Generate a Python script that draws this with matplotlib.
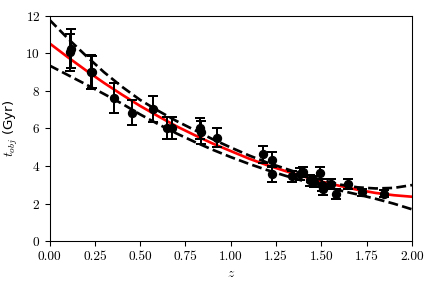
import matplotlib
matplotlib.use("Agg")
import matplotlib.pyplot as plt

plt.rcParams['font.family'] = 'serif'
plt.rcParams['font.serif'] = ['cmr10']
plt.rcParams['mathtext.fontset'] = 'cm'
plt.rcParams['axes.formatter.use_mathtext'] = True

# data points
z_obs = [0.115, 0.12, 0.227, 0.233, 0.357, 0.453, 0.573, 0.65, 0.678, 0.83, 0.834,
         0.926, 1.18, 1.226, 1.226, 1.34, 1.382, 1.397, 1.437, 1.461, 1.49, 1.502,
         1.511, 1.553, 1.58, 1.645, 1.726, 1.847]
t_obs = [10.05, 10.25, 9.0, 9.0, 7.62, 6.84, 7.03, 6.02, 6.02, 6.0, 5.8,
         5.52, 4.62, 4.34, 3.58, 3.45, 3.58, 3.68, 3.25, 3.18, 3.65, 3.0,
         2.77, 3.03, 2.52, 3.04, 2.61, 2.54]
t_err = [1.0, 1.05, 0.9, 0.85, 0.8, 0.67, 0.7, 0.6, 0.6, 0.57, 0.6,
         0.53, 0.45, 0.39, 0.42, 0.3, 0.3, 0.28, 0.3, 0.3, 0.32, 0.3,
         0.3, 0.27, 0.25, 0.25, 0.18, 0.18]

# curves
z_fit = [0.0, 0.1, 0.2, 0.3, 0.4, 0.5, 0.6, 0.7, 0.8, 0.9, 1.0,
         1.1, 1.2, 1.3, 1.4, 1.5, 1.6, 1.7, 1.8, 1.9, 2.0]
t_best = [10.53, 9.80, 9.10, 8.43, 7.80, 7.20, 6.65, 6.12, 5.65, 5.20, 4.80,
          4.40, 4.05, 3.74, 3.45, 3.18, 2.95, 2.74, 2.57, 2.45, 2.37]
t_upper = [11.78, 10.80, 9.88, 9.00, 8.22, 7.52, 6.94, 6.40, 5.92, 5.43, 4.99,
           4.57, 4.19, 3.87, 3.55, 3.27, 3.02, 2.87, 2.81, 2.84, 2.99]
t_lower = [9.35, 8.85, 8.35, 7.84, 7.32, 6.75, 6.23, 5.74, 5.29, 4.87, 4.48,
           4.12, 3.79, 3.49, 3.21, 2.95, 2.71, 2.49, 2.26, 2.00, 1.70]

fig, ax = plt.subplots(figsize=(4.5, 3), dpi=96)
fig.subplots_adjust(left=0.1146, right=0.9537, top=0.9455, bottom=0.1622)

ax.plot(z_fit, t_best, color='red', lw=2, zorder=2)
ax.plot(z_fit, t_upper, 'k--', lw=2, zorder=2)
ax.plot(z_fit, t_lower, 'k--', lw=2, zorder=2)
ax.errorbar(z_obs, t_obs, yerr=t_err, fmt='o', color='black', ms=6,
            capsize=4, elinewidth=1.5, capthick=1.5, zorder=3)

ax.set_xlim(0, 2)
ax.set_ylim(0, 12)
ax.set_xticks([0, 0.25, 0.5, 0.75, 1.0, 1.25, 1.5, 1.75, 2.0])
ax.set_xticklabels(['0.00', '0.25', '0.50', '0.75', '1.00', '1.25', '1.50', '1.75', '2.00'])
ax.set_yticks([0, 2, 4, 6, 8, 10, 12])
ax.set_xlabel('$z$')
ax.set_ylabel('$t_{obj}$ (Gyr)', family=['DejaVu Sans'])

fig.savefig('out.png', dpi=96)
